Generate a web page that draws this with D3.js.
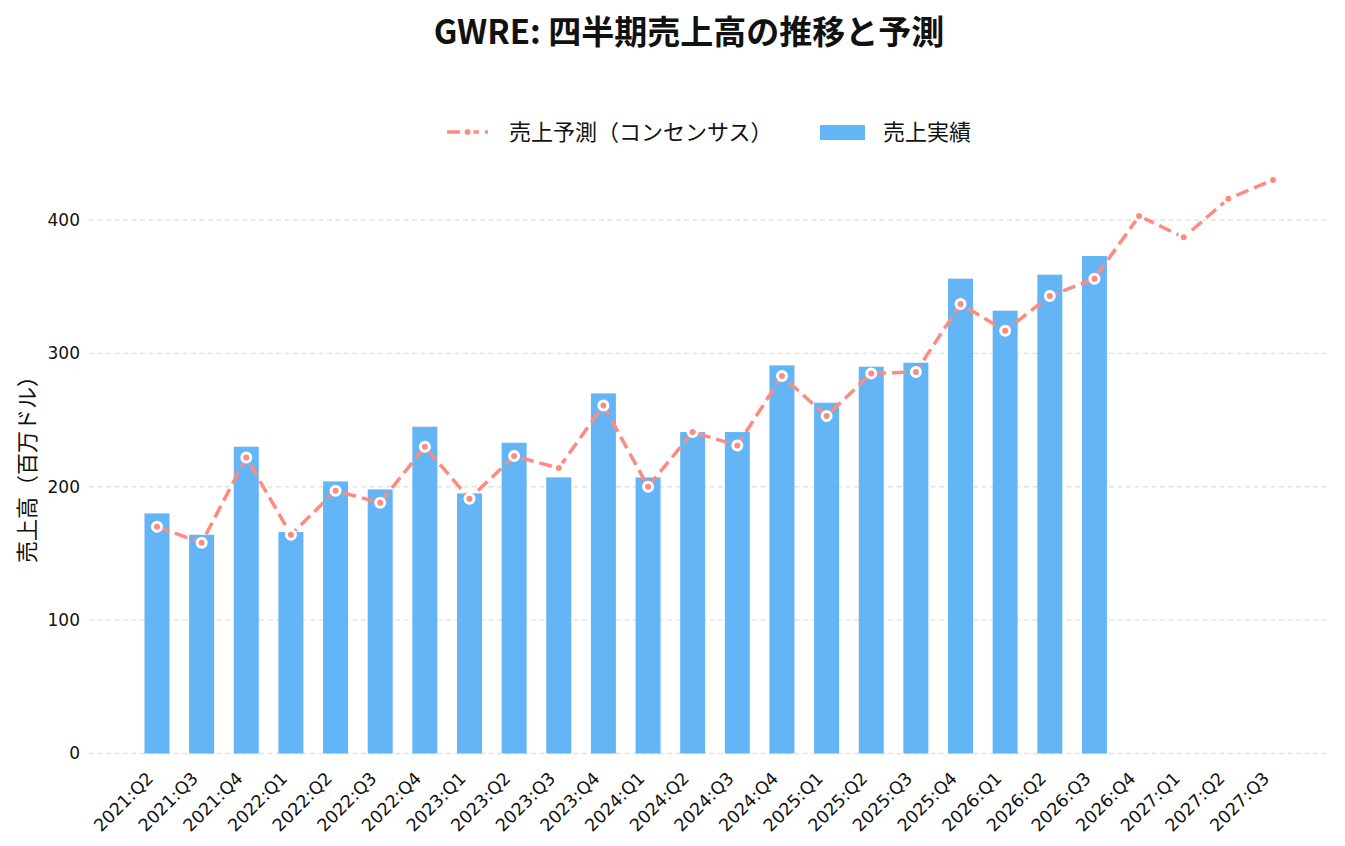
<!DOCTYPE html>
<html>
<head>
<meta charset="utf-8">
<script src="https://cdn.jsdelivr.net/npm/d3@7"></script>
<style>
  body { margin: 0; background: #fff; }
  text { font-family: "Noto Sans CJK JP", "Noto Sans", sans-serif; fill: #111; }
</style>
</head>
<body>
<div id="chart"></div>
<script>
// quarters on the x axis
const quarters = [
  '2021:Q2', '2021:Q3', '2021:Q4', '2022:Q1', '2022:Q2', '2022:Q3', '2022:Q4',
  '2023:Q1', '2023:Q2', '2023:Q3', '2023:Q4', '2024:Q1', '2024:Q2', '2024:Q3',
  '2024:Q4', '2025:Q1', '2025:Q2', '2025:Q3', '2025:Q4', '2026:Q1', '2026:Q2',
  '2026:Q3', '2026:Q4', '2027:Q1', '2027:Q2', '2027:Q3'
]

// actual revenue (millions USD), null where not reported yet
const actual = [
  180, 164, 230, 166, 204, 198, 245, 195, 233, 207, 270, 207, 241, 241,
  291, 263, 290, 293, 356, 332, 359, 373, null, null, null, null
]

// consensus estimates
const forecast = [
  170, 158, 222, 164, 197, 188, 230, 191, 223, 214, 261, 200, 241, 231,
  283, 253, 285, 286, 337, 317, 343, 356, 403, 387, 416, 430
]

const yTicks = [0, 100, 200, 300, 400]

const barColor = '#64b5f6'
const lineColor = '#ff8a80'
const tickFont = '"DejaVu Sans", sans-serif'

const width = 1345
const height = 846

const svg = d3
  .select('#chart')
  .append('svg')
  .attr('width', width)
  .attr('height', height)

const gridLeft = 89
const gridRight = 1329

const xPositionScale = d3
  .scalePoint()
  .domain(quarters)
  .range([157, 1273])

const yPositionScale = d3
  .scaleLinear()
  .domain([0, 400])
  .range([753.5, 220])

const barWidth = 25

// grid lines
svg
  .append('g')
  .selectAll('line')
  .data(yTicks)
  .enter()
  .append('line')
  .attr('x1', gridLeft)
  .attr('x2', gridRight)
  .attr('y1', d => yPositionScale(d))
  .attr('y2', d => yPositionScale(d))
  .attr('stroke', '#e2e2e2')
  .attr('stroke-width', 1.3)
  .attr('stroke-dasharray', '5,3.5')

// y axis labels
const yAxis = d3
  .axisLeft(yPositionScale)
  .tickValues(yTicks)
  .tickSize(0)
  .tickPadding(9)
svg
  .append('g')
  .attr('class', 'axis y-axis')
  .attr('transform', 'translate(' + gridLeft + ',0)')
  .call(yAxis)
svg.select('.y-axis .domain').remove()
svg
  .selectAll('.y-axis text')
  .style('font-size', '17px')
  .style('font-family', tickFont)
  .attr('fill', '#111')

// x axis labels
const xAxis = d3.axisBottom(xPositionScale).tickSize(0).tickPadding(0)
const xg = svg
  .append('g')
  .attr('class', 'axis x-axis')
  .attr('transform', 'translate(0,' + yPositionScale(0) + ')')
  .call(xAxis)
xg.select('.domain').remove()
xg.selectAll('text')
  .style('font-size', '17.5px')
  .style('font-family', tickFont)
  .attr('fill', '#111')
  .attr('text-anchor', 'end')
  .attr('dy', '0')
  .attr('y', 0)
  .attr('transform', 'translate(-3,26) rotate(-45)')

// bars
svg
  .append('g')
  .selectAll('rect')
  .data(quarters.map((q, i) => ({ q: q, v: actual[i] })).filter(d => d.v !== null))
  .enter()
  .append('rect')
  .attr('x', d => xPositionScale(d.q) - barWidth / 2)
  .attr('width', barWidth)
  .attr('y', d => yPositionScale(d.v))
  .attr('height', d => yPositionScale(0) - yPositionScale(d.v))
  .attr('fill', barColor)

// forecast line
const points = quarters.map((q, i) => ({ q: q, v: forecast[i] }))
const line = d3
  .line()
  .x(d => xPositionScale(d.q))
  .y(d => yPositionScale(d.v))

svg
  .append('path')
  .datum(points)
  .attr('d', line)
  .attr('fill', 'none')
  .attr('stroke', lineColor)
  .attr('stroke-width', 3.5)
  .attr('stroke-dasharray', '13,6')

svg
  .append('g')
  .selectAll('circle')
  .data(points)
  .enter()
  .append('circle')
  .attr('cx', d => xPositionScale(d.q))
  .attr('cy', d => yPositionScale(d.v))
  .attr('r', 4.5)
  .attr('fill', lineColor)
  .attr('stroke', '#fff')
  .attr('stroke-width', 3)

// title
svg
  .append('text')
  .attr('x', 689)
  .attr('y', 44)
  .attr('text-anchor', 'middle')
  .style('font-size', '33px')
  .style('font-weight', 'bold')
  .text('GWRE: 四半期売上高の推移と予測')

// y axis title
svg
  .append('text')
  .attr('transform', 'translate(35,464) rotate(-90)')
  .attr('text-anchor', 'middle')
  .style('font-size', '22px')
  .text('売上高（百万ドル）')

// legend
const legend = svg.append('g')
legend
  .append('line')
  .attr('x1', 447)
  .attr('x2', 488)
  .attr('y1', 132)
  .attr('y2', 132)
  .attr('stroke', lineColor)
  .attr('stroke-width', 3.5)
  .attr('stroke-dasharray', '13,6')
legend
  .append('circle')
  .attr('cx', 467.5)
  .attr('cy', 132)
  .attr('r', 4.5)
  .attr('fill', lineColor)
  .attr('stroke', '#fff')
  .attr('stroke-width', 3)
legend
  .append('text')
  .attr('x', 509)
  .attr('y', 140)
  .style('font-size', '22px')
  .text('売上予測（コンセンサス）')
legend
  .append('rect')
  .attr('x', 820)
  .attr('y', 125)
  .attr('width', 45)
  .attr('height', 15)
  .attr('fill', barColor)
legend
  .append('text')
  .attr('x', 883)
  .attr('y', 140)
  .style('font-size', '22px')
  .text('売上実績')
</script>
</body>
</html>
